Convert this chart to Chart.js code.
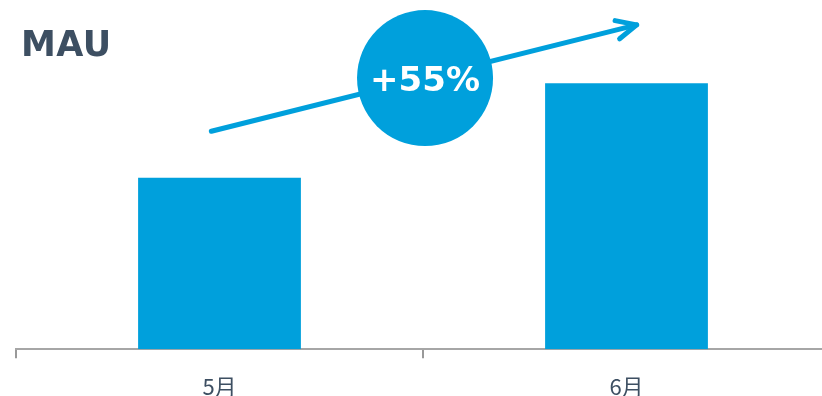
<!DOCTYPE html>
<html>
<head>
<meta charset="utf-8">
<script src="https://cdn.jsdelivr.net/npm/chart.js@4/dist/chart.umd.min.js"></script>
<style>
  html, body { margin: 0; padding: 0; background: #fff; overflow: hidden; }
  #wrap { position: relative; width: 830px; height: 416px; }
</style>
</head>
<body>
<div id="wrap"><canvas id="chart"></canvas></div>
<script>
// chart data
const months = ['5月', '6月'];
const mau = [100, 155];
const growthLabel = '+55%';
const titleText = 'MAU';

const BLUE = '#00a0dc';
const SLATE = '#3d4f62';

/* arrow + growth badge, placed in data space (category index, value) */
const arrowFrom = [-0.02, 127];
const arrowTo = [1.025, 189];
const badgeAt = [0.505, 158];

const overlay = {
    id: 'overlay',
    afterDatasetsDraw(chart) {
        const ctx = chart.ctx;
        const xs = chart.scales.x, ys = chart.scales.y;
        const px = (p) => [xs.getPixelForValue(p[0]), ys.getPixelForValue(p[1])];
        const a = px(arrowFrom), b = px(arrowTo), c = px(badgeAt);

        ctx.save();
        // arrow shaft
        ctx.strokeStyle = BLUE;
        ctx.lineWidth = 5;
        ctx.lineCap = 'round';
        ctx.lineJoin = 'round';
        ctx.beginPath();
        ctx.moveTo(a[0], a[1]);
        ctx.lineTo(b[0], b[1]);
        ctx.stroke();

        // open arrow head
        const ang = Math.atan2(b[1] - a[1], b[0] - a[0]);
        const len = 22, spread = 0.44;
        ctx.beginPath();
        ctx.moveTo(b[0] - len * Math.cos(ang - spread), b[1] - len * Math.sin(ang - spread));
        ctx.lineTo(b[0], b[1]);
        ctx.lineTo(b[0] - len * Math.cos(ang + spread), b[1] - len * Math.sin(ang + spread));
        ctx.stroke();

        // badge
        ctx.fillStyle = BLUE;
        ctx.beginPath();
        ctx.arc(c[0], c[1], 68, 0, Math.PI * 2);
        ctx.fill();

        ctx.fillStyle = '#fff';
        ctx.font = 'bold 34px "DejaVu Sans"';
        ctx.textAlign = 'center';
        ctx.textBaseline = 'middle';
        ctx.fillText(growthLabel, c[0], c[1] + 4);

        // title
        ctx.fillStyle = SLATE;
        ctx.font = 'bold 35px "DejaVu Sans"';
        ctx.letterSpacing = '0.5px';
        ctx.textAlign = 'left';
        ctx.textBaseline = 'alphabetic';
        ctx.fillText(titleText, 21, 56);
        ctx.restore();
    }
};

new Chart(document.getElementById('chart'), {
    type: 'bar',
    data: {
        labels: months,
        datasets: [{
            data: mau,
            backgroundColor: BLUE,
            borderWidth: 0,
            categoryPercentage: 1,
            barPercentage: 0.4,
        }]
    },
    options: {
        responsive: true,
        maintainAspectRatio: false,
        animation: false,
        layout: { padding: { left: 16, right: 0, top: 6, bottom: 0 } },
        plugins: {
            legend: { display: false },
            tooltip: { enabled: false },
        },
        scales: {
            x: {
                grid: {
                    display: true,
                    drawOnChartArea: false,
                    drawTicks: true,
                    tickLength: 9,
                    lineWidth: 2,
                    color: '#999999',
                    offset: true,
                },
                border: { display: true, color: '#a6a6a6', width: 2 },
                ticks: {
                    color: SLATE,
                    padding: 15,
                    font: { family: '"Noto Sans CJK JP", "Noto Sans"', size: 22, lineHeight: 1.26 },
                },
            },
            y: {
                display: false,
                min: 0,
                max: 200,
            }
        }
    },
    plugins: [overlay]
});
</script>
</body>
</html>
